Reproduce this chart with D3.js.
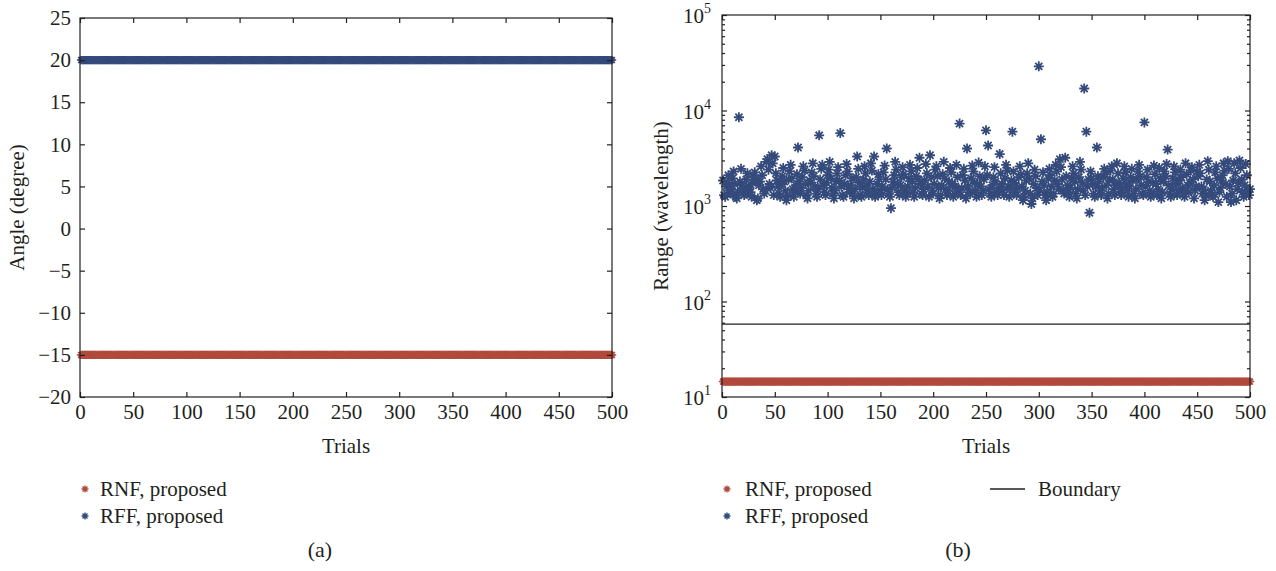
<!DOCTYPE html>
<html><head><meta charset="utf-8">
<script src="https://cdn.jsdelivr.net/npm/d3@7"></script>
<style>body{margin:0;background:#fff;}</style></head>
<body><svg id="c" width="1276" height="571" font-family='"Liberation Serif"'></svg>
<script>
// ---------- data ----------
const trialsMax = 500;
const angleTicks = [-20,-15,-10,-5,0,5,10,15,20,25];
const trialTicks = [0,50,100,150,200,250,300,350,400,450,500];
const rangeExpTicks = [1,2,3,4,5];
const rnfAngle = -15;      // degree, all trials
const rffAngle = 20;       // degree, all trials
const rnfRange = 14.5;     // wavelength, all trials
const boundaryRange = 58;  // wavelength
const rffRange = [
1850,1300,1250,1600,1750,2100,1450,1350,1500,1950,2300,1700,1250,1200,1400,8500,1800,2450,1650,1500,1300,1350,1900,2200,1600,
1550,1400,1250,1750,2000,2250,1900,1150,1200,1650,1800,2600,2100,1500,1350,1450,2900,3100,2400,1700,1550,3400,2800,1300,3300,
2200,1850,1600,1350,1250,1700,2050,2500,1800,1450,1150,1300,1900,2300,2700,1950,1500,1250,1400,1650,2150,4100,1800,1350,1550,
2000,2600,2350,1700,1300,1200,1450,1850,1750,2250,2800,2050,1600,1350,1250,1500,5500,1900,2450,2700,1650,1400,1300,1750,2100,
2400,2900,1950,1550,1350,1200,1450,1800,2200,2550,1850,5800,1600,1300,1250,1700,2100,2750,2300,1500,1400,1650,1950,1350,1200,
1500,2000,3300,2450,1750,1300,1250,1550,1900,2600,2200,1650,1400,1300,1800,2800,2350,1500,3300,1250,1350,1700,2150,1900,1450,
1300,1600,2250,2650,1900,4000,1500,1350,1250,950,1550,1800,2100,2900,2400,1700,1400,1300,1650,2000,2550,2150,1450,1250,1350,
1600,1950,2700,2300,1800,1400,1250,1550,2050,2500,1900,3200,1700,1350,1300,1500,1850,2750,2200,1600,1250,3400,2000,1450,1350,
1700,2400,2600,2050,1550,1200,1300,1650,2150,2900,1950,1500,1300,1450,1800,2500,2250,1700,1250,1350,1600,2700,2000,1450,7300,
1300,1550,2100,2450,1850,1200,4000,1600,1400,1350,1950,2650,2300,1750,1450,1250,1700,2850,2050,1600,1300,1450,1900,2600,6200,
2100,4300,1500,1350,1250,1650,2000,2550,1800,1400,1300,1550,3500,2200,1700,1450,1300,1950,2700,2350,1600,1250,1500,1850,6000,
2300,1750,1400,1300,1550,2000,2600,2150,1600,1150,1250,1450,1850,2200,2800,1950,1350,1050,1200,1700,2400,2050,1550,1300,29000,
1450,5000,1800,2250,1650,1300,1150,1400,1950,2450,2100,1600,1250,1350,1850,2700,2300,1700,1500,3100,2550,1900,1450,1350,3200,
2050,1650,1400,1250,1550,1950,2600,2200,1800,1350,1200,1500,2000,2900,2400,1750,1450,17000,1300,6000,1600,1900,850,2300,1950,
1700,1350,1250,1600,4100,2050,1800,1450,1300,1550,2000,2450,2150,1650,1200,1350,1850,2350,2600,1900,1500,1300,1650,2800,2200,
1750,1400,1300,1550,1950,2600,2250,1700,1450,1250,1600,2000,2450,1850,1350,1200,1500,1900,2300,2700,2050,1650,1350,1300,7500,
1600,2000,2400,1800,1450,1250,1350,1750,2650,2150,1700,1300,1500,2500,1950,1200,1400,1800,2300,2050,2750,3900,1650,1350,1250,
1500,1950,2600,2250,1700,1300,1450,1850,2400,2000,1550,1350,1250,2800,2150,1650,1400,1750,2350,2550,1900,1200,1450,1600,2300,
2050,2700,2200,1600,1350,1500,1150,1300,1900,2950,2400,1800,1450,1300,1250,1650,2250,2600,1950,1100,1400,1550,1850,2100,2800,
2350,1700,1250,2950,2450,1600,1100,1350,1850,2800,2200,1150,1500,1750,3000,2500,1900,1400,1250,1650,2750,2100,1450,1300,1500
];
const legendLabels = ["RNF, proposed","RFF, proposed","Boundary"];
const colorRNF = "#b24a3c";
const colorRFF = "#344a7b";
const ink = "#231f20";

// ---------- helpers ----------
const svg = d3.select("#c");
const trials = d3.range(1, trialsMax + 1);
function starPath(r){
  const d = r*0.7071;
  return `M${-r},0L${r},0M0,${-r}L0,${r}M${-d},${-d}L${d},${d}M${-d},${d}L${d},${-d}`;
}
const FS = 21;
const FF = '"Liberation Serif"';
function txt(g){ return g.append("text").attr("font-family",FF).attr("font-size",FS).attr("fill",ink); }
function styleAxis(a){
  a.select(".domain").remove();
  a.attr("font-family",FF).attr("font-size",FS);
  a.selectAll("line").attr("stroke",ink).attr("stroke-width",1.2);
  a.selectAll("text").attr("fill",ink);
}

// ---------- panel (a) ----------
{
  const x0=80,x1=612,y0=18,y1=397;
  const x = d3.scaleLinear().domain([0,trialsMax]).range([x0,x1]);
  const y = d3.scaleLinear().domain([-20,25]).range([y1,y0]);
  const g = svg.append("g");
  const sp = starPath(4.2);
  g.append("g").selectAll("path").data(trials).join("path")
    .attr("d",sp).attr("transform",d=>`translate(${x(d)},${y(rnfAngle)})`)
    .attr("stroke",colorRNF).attr("stroke-width",1.5).attr("fill","none");
  g.append("g").selectAll("path").data(trials).join("path")
    .attr("d",sp).attr("transform",d=>`translate(${x(d)},${y(rffAngle)})`)
    .attr("stroke",colorRFF).attr("stroke-width",1.5).attr("fill","none");
  g.append("rect").attr("x",x0).attr("y",y0).attr("width",x1-x0).attr("height",y1-y0)
    .attr("fill","none").attr("stroke",ink).attr("stroke-width",1.2);
  const fmt = v => v<0 ? "\u2212"+Math.abs(v) : String(v);
  styleAxis(g.append("g").attr("transform",`translate(0,${y1})`)
    .call(d3.axisBottom(x).tickValues(trialTicks).tickSize(-5).tickPadding(7).tickFormat(d3.format("d"))));
  styleAxis(g.append("g").attr("transform",`translate(0,${y0})`)
    .call(d3.axisTop(x).tickValues(trialTicks).tickSize(-5).tickFormat("")));
  styleAxis(g.append("g").attr("transform",`translate(${x0},0)`)
    .call(d3.axisLeft(y).tickValues(angleTicks).tickSize(-5).tickPadding(9).tickFormat(fmt)));
  styleAxis(g.append("g").attr("transform",`translate(${x1},0)`)
    .call(d3.axisRight(y).tickValues(angleTicks).tickSize(-5).tickFormat("")));
  txt(g).attr("x",(x0+x1)/2).attr("y",453).attr("text-anchor","middle").text("Trials");
  txt(g).attr("transform",`translate(24,${(y0+y1)/2}) rotate(-90)`).attr("text-anchor","middle").text("Angle (degree)");
  // legend
  g.append("path").attr("d",starPath(3.5)).attr("transform","translate(85,489)")
    .attr("stroke",colorRNF).attr("stroke-width",1.4).attr("fill","none");
  txt(g).attr("x",100).attr("y",496).text(legendLabels[0]);
  g.append("path").attr("d",starPath(3.5)).attr("transform","translate(85,516)")
    .attr("stroke",colorRFF).attr("stroke-width",1.4).attr("fill","none");
  txt(g).attr("x",100).attr("y",523).text(legendLabels[1]);
  txt(g).attr("x",320).attr("y",557).attr("text-anchor","middle").attr("font-size",22).text("(a)");
}

// ---------- panel (b) ----------
{
  const x0=722,x1=1250,y0=15,y1=397;
  const x = d3.scaleLinear().domain([0,trialsMax]).range([x0,x1]);
  const y = d3.scaleLog().domain([10,1e5]).range([y1,y0]);
  const g = svg.append("g");
  const sp = starPath(5);
  g.append("line").attr("x1",x(0)).attr("x2",x(trialsMax)).attr("y1",y(boundaryRange)).attr("y2",y(boundaryRange))
    .attr("stroke",ink).attr("stroke-width",1.3);
  g.append("g").selectAll("path").data(trials).join("path")
    .attr("d",starPath(4.2)).attr("transform",d=>`translate(${x(d)},${y(rnfRange)})`)
    .attr("stroke",colorRNF).attr("stroke-width",1.5).attr("fill","none");
  g.append("g").selectAll("path").data(rffRange).join("path")
    .attr("d",sp).attr("transform",(d,i)=>`translate(${x(i+1)},${y(d)})`)
    .attr("stroke",colorRFF).attr("stroke-width",1.8).attr("fill","none");
  g.append("rect").attr("x",x0).attr("y",y0).attr("width",x1-x0).attr("height",y1-y0)
    .attr("fill","none").attr("stroke",ink).attr("stroke-width",1.2);
  styleAxis(g.append("g").attr("transform",`translate(0,${y1})`)
    .call(d3.axisBottom(x).tickValues(trialTicks).tickSize(-5).tickPadding(7).tickFormat(d3.format("d"))));
  styleAxis(g.append("g").attr("transform",`translate(0,${y0})`)
    .call(d3.axisTop(x).tickValues(trialTicks).tickSize(-5).tickFormat("")));
  const majors = rangeExpTicks.map(e=>Math.pow(10,e));
  const minors = [];
  rangeExpTicks.slice(0,-1).forEach(e=>{for(let k=2;k<=9;k++) minors.push(k*Math.pow(10,e));});
  [[x0,d3.axisLeft],[x1,d3.axisRight]].forEach(([px,fn])=>{
    styleAxis(g.append("g").attr("transform",`translate(${px},0)`).call(fn(y).tickValues(majors).tickSize(-5).tickFormat("")));
    styleAxis(g.append("g").attr("transform",`translate(${px},0)`).call(fn(y).tickValues(minors).tickSize(-3).tickFormat("")));
  });
  // log labels with superscripts
  rangeExpTicks.forEach(e=>{
    const t = txt(g).attr("x",x0-11).attr("y",y(Math.pow(10,e))+8).attr("text-anchor","end");
    t.append("tspan").text("10");
    t.append("tspan").attr("dy",-10).attr("font-size",14).text(String(e));
  });
  txt(g).attr("x",(x0+x1)/2).attr("y",453).attr("text-anchor","middle").text("Trials");
  txt(g).attr("transform",`translate(668,${(y0+y1)/2}) rotate(-90)`).attr("text-anchor","middle").text("Range (wavelength)");
  // legend
  g.append("path").attr("d",starPath(3.5)).attr("transform","translate(727,489)")
    .attr("stroke",colorRNF).attr("stroke-width",1.4).attr("fill","none");
  txt(g).attr("x",745).attr("y",496).text(legendLabels[0]);
  g.append("path").attr("d",starPath(3.5)).attr("transform","translate(727,516)")
    .attr("stroke",colorRFF).attr("stroke-width",1.4).attr("fill","none");
  txt(g).attr("x",745).attr("y",523).text(legendLabels[1]);
  g.append("line").attr("x1",990).attr("x2",1025).attr("y1",489).attr("y2",489)
    .attr("stroke",ink).attr("stroke-width",1.3);
  txt(g).attr("x",1038).attr("y",496).text(legendLabels[2]);
  txt(g).attr("x",958).attr("y",557).attr("text-anchor","middle").attr("font-size",22).text("(b)");
}
</script></body></html>
